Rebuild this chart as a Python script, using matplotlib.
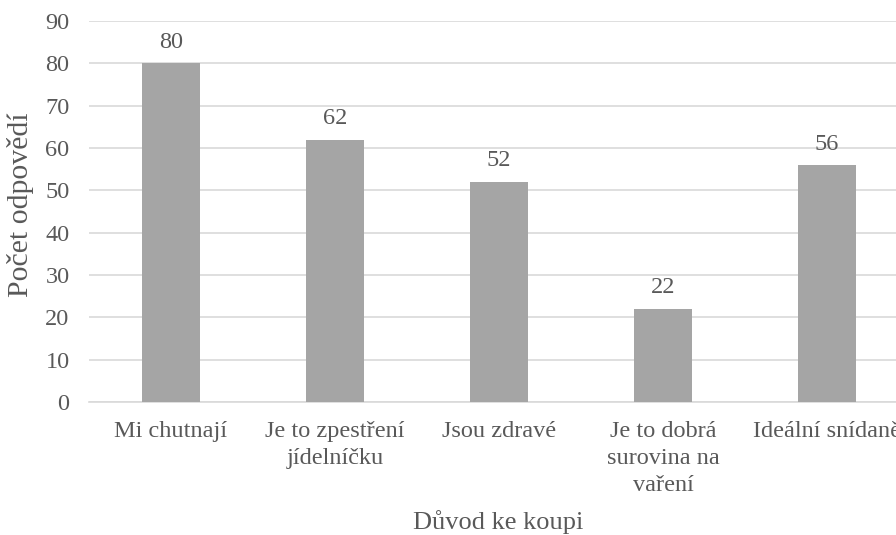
import matplotlib.pyplot as plt

categories = ["Mi chutnají", "Je to zpestření\njídelníčku", "Jsou zdravé",
              "Je to dobrá\nsurovina na\nvaření", "Ideální snídaně"]
values = [80, 62, 52, 22, 56]

plt.rcParams['font.family'] = ['Liberation Serif', 'DejaVu Serif']
text_color = "#595959"
fs = 17.5

fig = plt.figure(figsize=(8.96, 5.35), dpi=100)
ax = fig.add_axes([0.0993, 0.2486, 0.9152, 0.7121])

x = range(len(categories))
bars = ax.bar(x, values, width=0.354, color="#A5A5A5", zorder=3)
for b, v in zip(bars, values):
    ax.annotate(str(v), (b.get_x() + b.get_width() / 2, v), xytext=(0, 7.5),
                textcoords="offset points", ha="center", va="bottom",
                fontsize=fs, color=text_color)

ax.set_xlim(-0.5, 4.5)
ax.set_ylim(0, 90)
ax.set_yticks(range(0, 91, 10))
ax.set_xticks(list(x))
ax.set_xticklabels(categories, linespacing=1.35)
ax.tick_params(length=0, labelsize=fs, colors=text_color)
ax.tick_params(axis="y", pad=14)
ax.tick_params(axis="x", pad=14)
ax.grid(axis="y", color="#D9D9D9", linewidth=1.2, zorder=0)
for s in ["top", "right", "left"]:
    ax.spines[s].set_visible(False)
ax.spines["bottom"].set_color("#D9D9D9")
ax.spines["bottom"].set_linewidth(1.2)

fig.text(0.023, 0.617, "Počet odpovědí", rotation=90, ha="center", va="center",
         fontsize=21.5, color=text_color)
fig.text(0.556, 0.024, "Důvod ke koupi", ha="center", va="center",
         fontsize=19, color=text_color)

fig.savefig("out.png", dpi=100)
